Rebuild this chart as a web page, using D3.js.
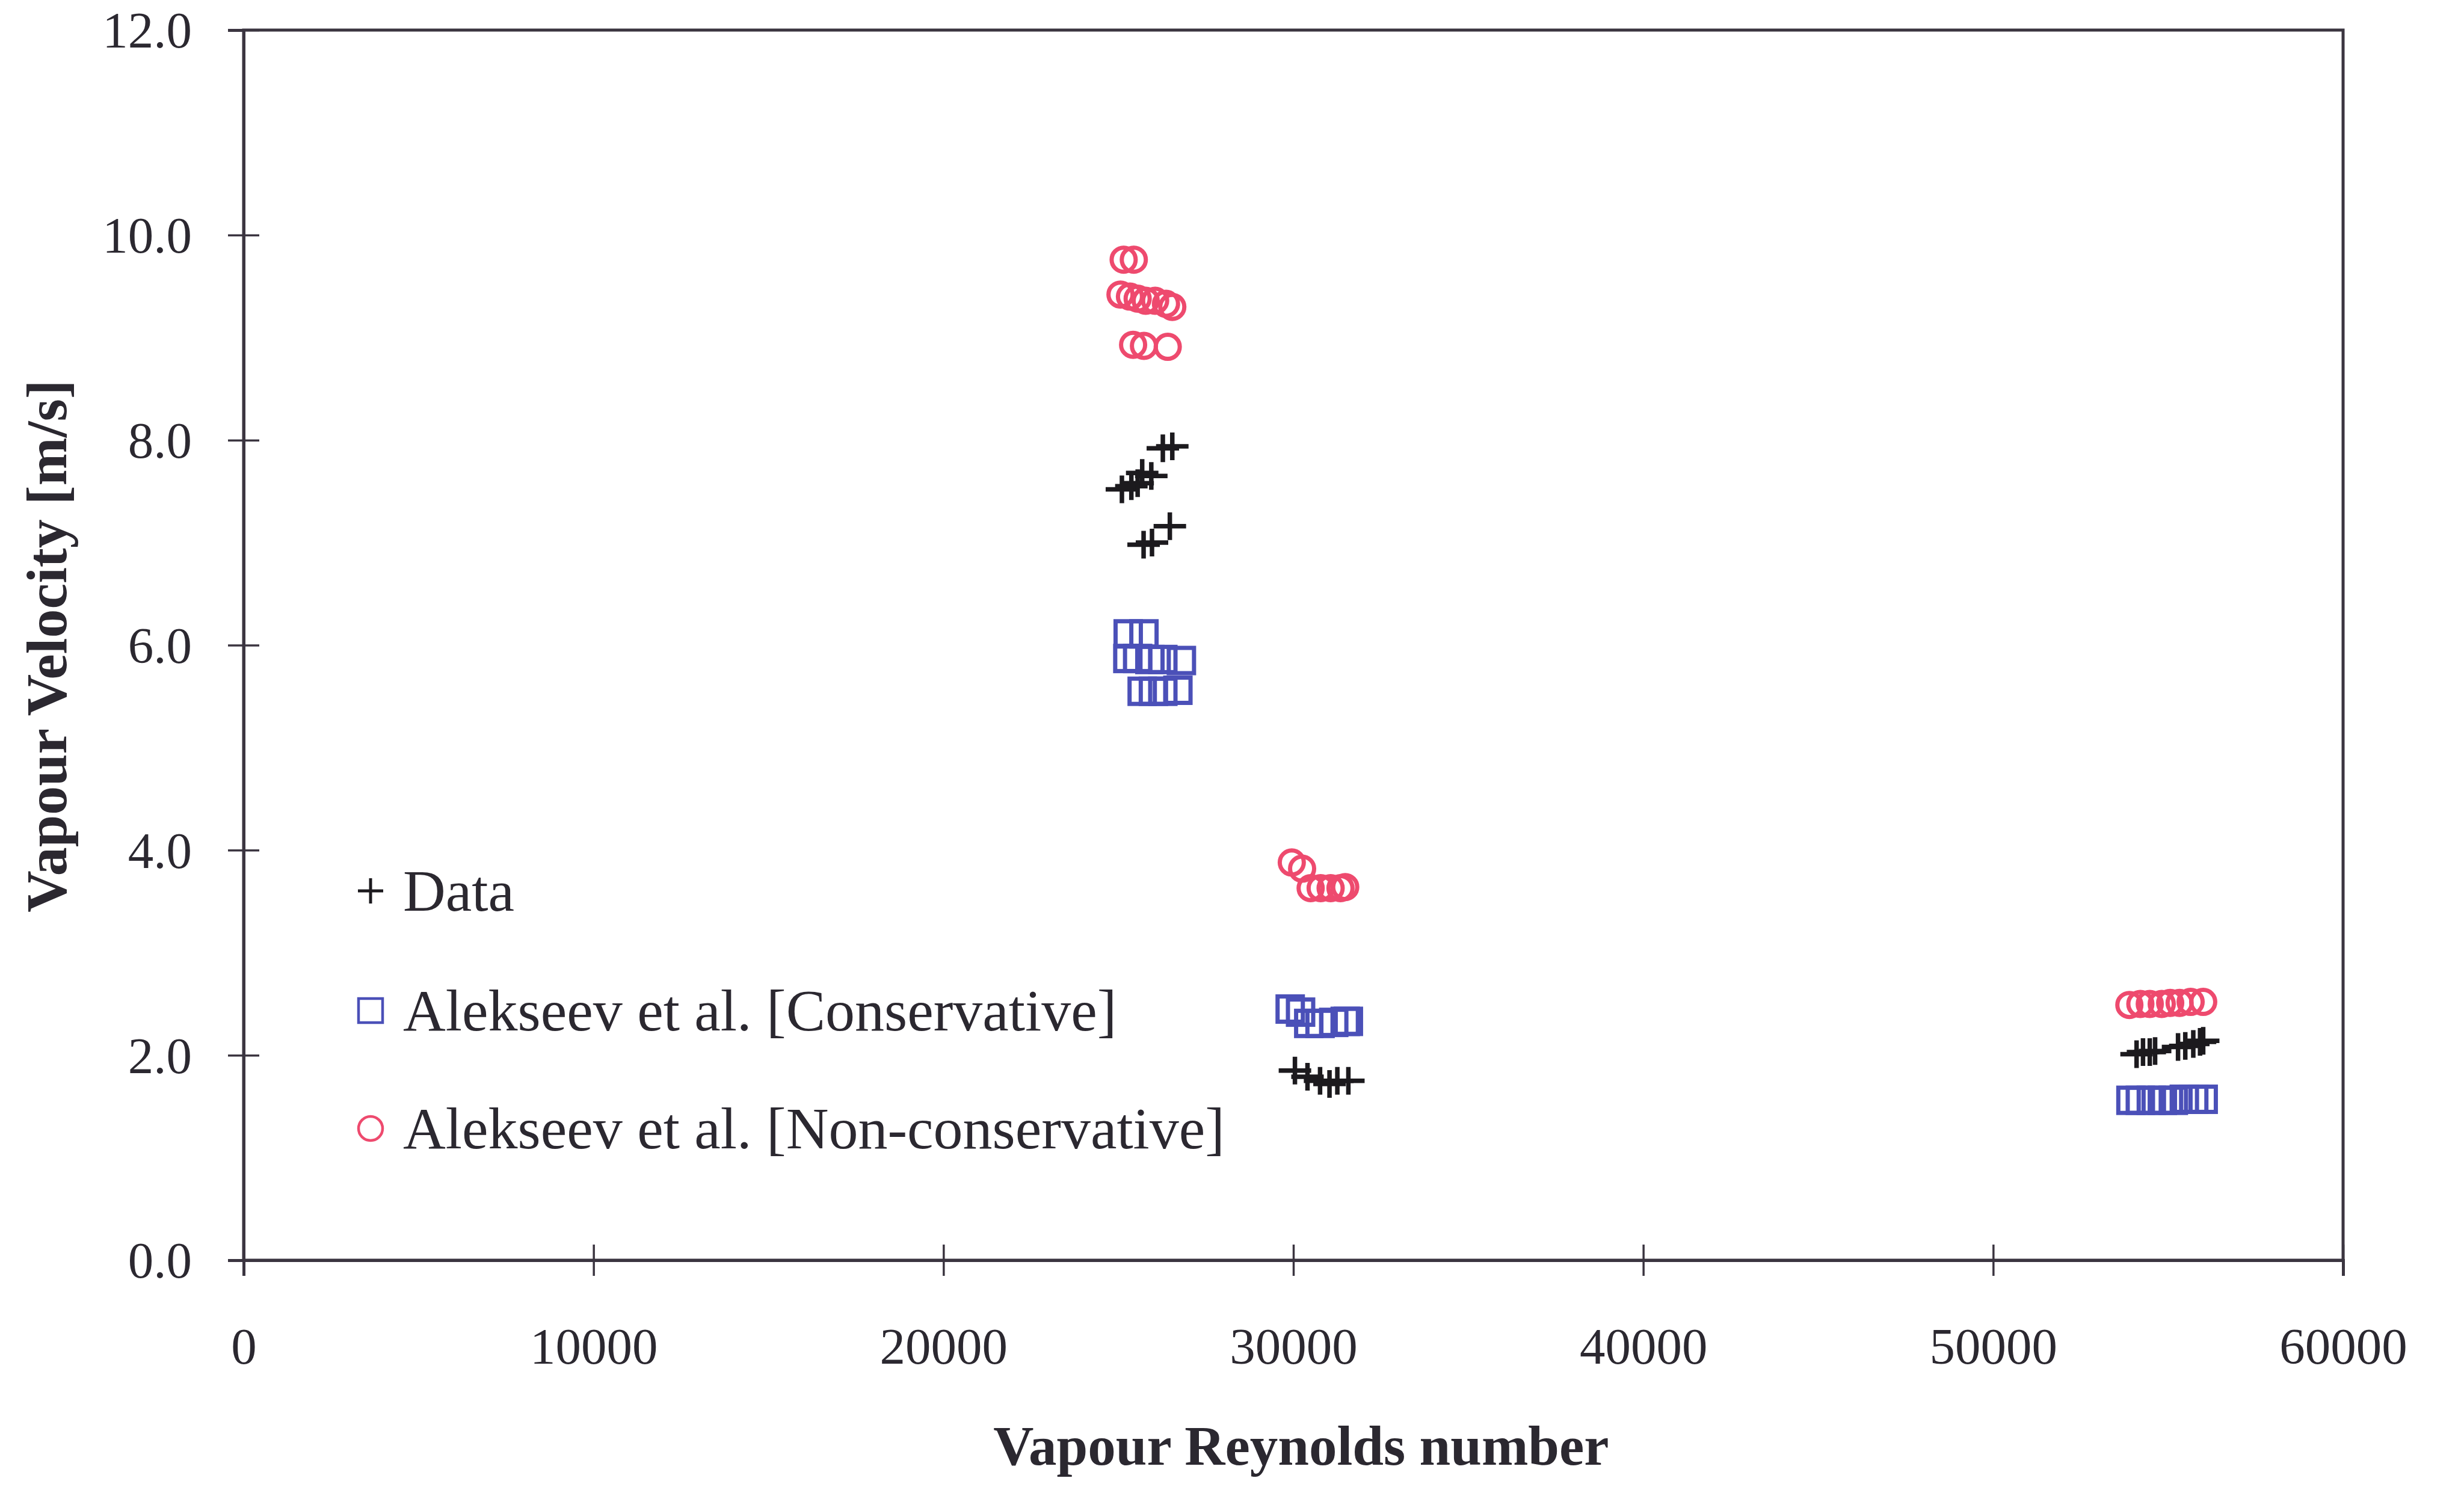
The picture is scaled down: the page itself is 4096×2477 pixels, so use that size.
<!DOCTYPE html>
<html>
<head>
<meta charset="utf-8">
<script src="https://cdn.jsdelivr.net/npm/d3@7"></script>
<style>
  body { margin: 0; background: #fff; }
  svg { display: block; }
  text { font-family: "Liberation Serif", "DejaVu Serif", serif; fill: #2b2830; }
</style>
</head>
<body>
<svg id="chart" width="4096" height="2477"></svg>
<script>
// --- data ---
var reData = [26270, 26540, 25100, 25370, 25550, 25680, 25940, 25720, 25960, 26470,
              30045, 30404, 30763, 31033, 31257, 31572,
              54098, 54282, 54475, 54628, 55283, 55490, 55719, 55912, 56002];
var velData = [7.92, 7.94, 7.52, 7.55, 7.58, 7.68, 7.65, 6.98, 7.00, 7.16,
               1.85, 1.79, 1.75, 1.72, 1.75, 1.75,
               2.01, 2.03, 2.03, 2.04, 2.08, 2.09, 2.11, 2.13, 2.14];

var reCons = [25280, 25730, 25270, 25550, 25900, 26270, 26800, 25680, 26000, 26270, 26700,
              29910, 30206, 30440, 30763, 31154, 31482, 31572,
              53937, 54206, 54520, 54835, 55149, 55463, 55732, 56002];
var velCons = [6.11, 6.11, 5.87, 5.87, 5.86, 5.86, 5.85, 5.55, 5.55, 5.55, 5.56,
               2.45, 2.42, 2.31, 2.31, 2.32, 2.33, 2.33,
               1.56, 1.56, 1.56, 1.56, 1.56, 1.57, 1.57, 1.57];

var reNonCons = [25150, 25440, 25060, 25330, 25550, 25780, 26050, 26360, 26540, 25420, 25730, 26410,
                 29955, 30250, 30494, 30780, 31065, 31347, 31482,
                 53892, 54206, 54475, 54817, 55059, 55328, 55643, 56002];
var velNonCons = [9.76, 9.76, 9.42, 9.40, 9.38, 9.36, 9.36, 9.33, 9.30, 8.93, 8.92, 8.91,
                  3.88, 3.82, 3.63, 3.63, 3.63, 3.63, 3.64,
                  2.49, 2.50, 2.50, 2.50, 2.51, 2.51, 2.52, 2.52];

var xTicks = [0, 10000, 20000, 30000, 40000, 50000, 60000];
var yTicks = [0, 2, 4, 6, 8, 10, 12];

var legendLabels = ["Data", "Alekseev et al. [Conservative]", "Alekseev et al. [Non-conservative]"];

// --- layout ---
var svg = d3.select("#chart");
var plotLeft = 405, plotRight = 3895, plotTop = 50, plotBottom = 2095;
var axisColor = "#3b3540";
var pink = "#ee4a6e", blue = "#4b50b8", black = "#1c1a1e";

var x = d3.scaleLinear().domain([0, 60000]).range([plotLeft, plotRight]);
var y = d3.scaleLinear().domain([0, 12]).range([plotBottom, plotTop]);

// plot frame
svg.append("rect")
  .attr("x", plotLeft).attr("y", plotTop)
  .attr("width", plotRight - plotLeft).attr("height", plotBottom - plotTop)
  .attr("fill", "none")
  .attr("stroke", axisColor)
  .attr("stroke-width", 5);

// y axis
var gy = svg.append("g")
  .attr("transform", "translate(" + plotLeft + ",0)")
  .call(d3.axisLeft(y).tickValues(yTicks).tickFormat(d3.format(".1f")).tickSize(26));
gy.select(".domain").attr("stroke", axisColor).attr("stroke-width", 5);
gy.selectAll(".tick line").attr("x1", 26).attr("x2", -26)
  .attr("stroke", axisColor).attr("stroke-width", 3.5);
gy.selectAll(".tick text")
  .attr("x", -86).attr("dy", "0.34em")
  .style("font-size", "85px")
  .style("font-family", "'Liberation Serif', serif")
  .attr("fill", "#2b2830");

// x axis
var gx = svg.append("g")
  .attr("transform", "translate(0," + plotBottom + ")")
  .call(d3.axisBottom(x).tickValues(xTicks).tickFormat(d3.format("d")).tickSize(26));
gx.select(".domain").attr("stroke", axisColor).attr("stroke-width", 5);
gx.selectAll(".tick line").attr("y1", -26).attr("y2", 26)
  .attr("stroke", axisColor).attr("stroke-width", 3.5);
gx.selectAll(".tick text")
  .attr("y", 143).attr("dy", "0.34em")
  .style("font-size", "85px")
  .style("font-family", "'Liberation Serif', serif")
  .attr("fill", "#2b2830");

// axis titles
svg.append("text")
  .attr("x", 2163).attr("y", 2435)
  .attr("text-anchor", "middle")
  .style("font-size", "93px").style("font-weight", "bold")
  .text("Vapour Reynolds number");

svg.append("text")
  .attr("transform", "translate(110,1074) rotate(-90)")
  .attr("text-anchor", "middle")
  .style("font-size", "96px").style("font-weight", "bold")
  .text("Vapour Velocity [m/s]");

// marker shapes
function plusPath(hw, hh) {
  return "M" + (-hw) + ",0H" + hw + "M0," + (-hh) + "V" + hh;
}

// Data (+)
svg.append("g").selectAll("path")
  .data(d3.range(reData.length))
  .enter().append("path")
  .attr("transform", function(i) { return "translate(" + x(reData[i]) + "," + y(velData[i]) + ")"; })
  .attr("d", plusPath(27, 23))
  .attr("stroke", black)
  .attr("stroke-width", 7.5)
  .attr("fill", "none");

// Conservative (squares)
var sq = 42;
svg.append("g").selectAll("rect")
  .data(d3.range(reCons.length))
  .enter().append("rect")
  .attr("x", function(i) { return x(reCons[i]) - sq / 2; })
  .attr("y", function(i) { return y(velCons[i]) - sq / 2; })
  .attr("width", sq).attr("height", sq)
  .attr("fill", "none")
  .attr("stroke", blue)
  .attr("stroke-width", 7);

// Non-conservative (circles)
svg.append("g").selectAll("circle")
  .data(d3.range(reNonCons.length))
  .enter().append("circle")
  .attr("cx", function(i) { return x(reNonCons[i]); })
  .attr("cy", function(i) { return y(velNonCons[i]); })
  .attr("r", 20)
  .attr("fill", "none")
  .attr("stroke", pink)
  .attr("stroke-width", 7);

// legend
var legY = [1481, 1680, 1876];
var legMarkX = 616, legTextX = 670;

svg.append("path")
  .attr("transform", "translate(" + legMarkX + "," + legY[0] + ")")
  .attr("d", plusPath(21, 21))
  .attr("stroke", black).attr("stroke-width", 5);
svg.append("rect")
  .attr("x", legMarkX - 20).attr("y", legY[1] - 20)
  .attr("width", 40).attr("height", 40)
  .attr("fill", "none").attr("stroke", blue).attr("stroke-width", 4.5);
svg.append("circle")
  .attr("cx", legMarkX).attr("cy", legY[2]).attr("r", 20)
  .attr("fill", "none").attr("stroke", pink).attr("stroke-width", 4.5);

svg.append("g").selectAll("text")
  .data(legendLabels)
  .enter().append("text")
  .attr("x", legTextX)
  .attr("y", function(d, i) { return legY[i]; })
  .attr("dy", "0.34em")
  .style("font-size", "98px")
  .text(function(d) { return d; });
</script>
</body>
</html>
